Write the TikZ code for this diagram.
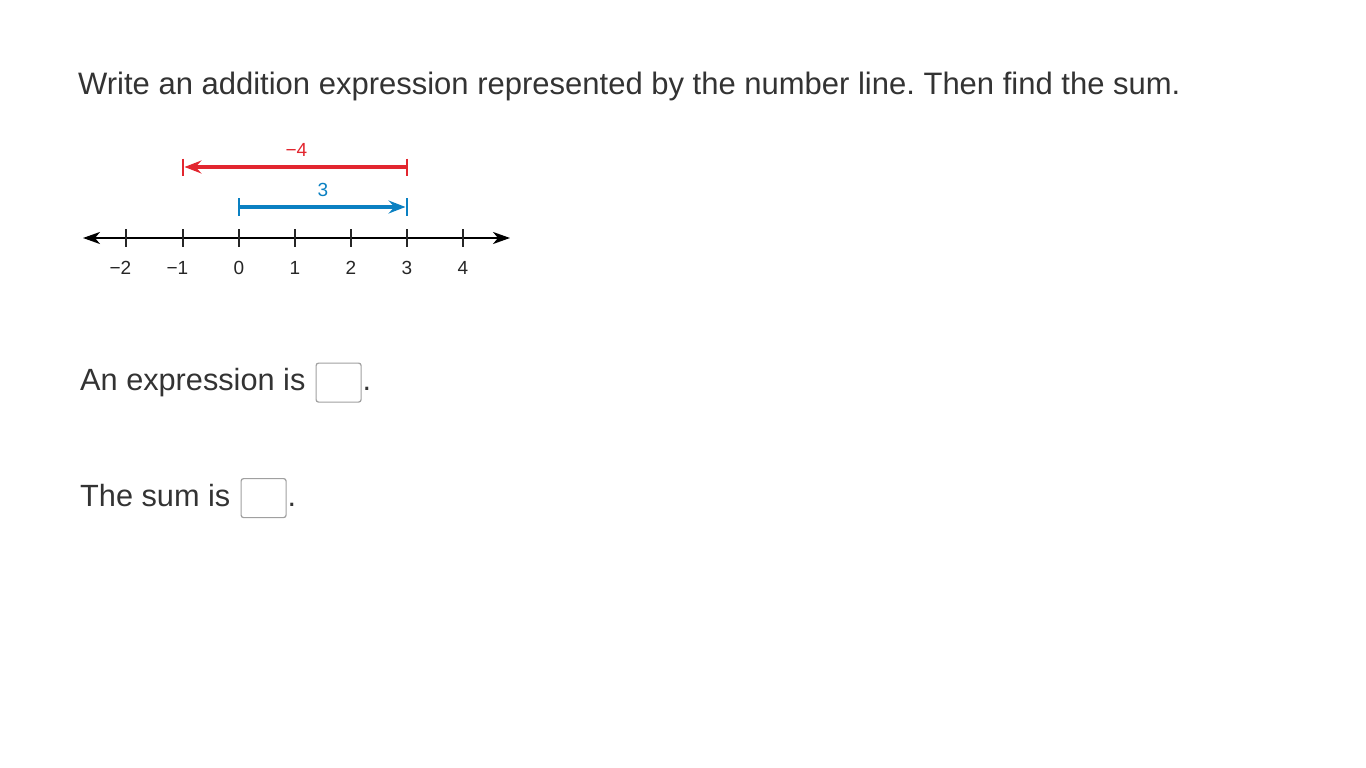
\documentclass[tikz,border=0pt]{standalone}
\usepackage{fontspec}
\setmainfont{Liberation Sans}
\frenchspacing
\usetikzlibrary{arrows.meta}
\definecolor{txt}{HTML}{333333}
\definecolor{nred}{HTML}{E2262F}
\definecolor{nblue}{HTML}{0A80C2}
\definecolor{boxgray}{HTML}{A0A0A0}
\tikzset{
  maintext/.style={anchor=base west, inner sep=0pt, text=txt, font=\fontsize{31}{36}\selectfont},
  lowtext/.style={maintext, font=\fontsize{30.7}{36}\selectfont},
  numlabel/.style={anchor=base, inner sep=0pt, text=black!85, font=\fontsize{19}{22}\selectfont},
  answerbox/.style={draw=boxgray, line width=1.2pt, rounded corners=2.5pt, fill=white, minimum width=45pt, minimum height=39pt, inner sep=0pt, anchor=north west},
  axis/.style={line width=2.2pt, black},
  tick/.style={line width=1.6pt, black!85},
  redarrow/.style={line width=3.5pt, nred},
  bluearrow/.style={line width=3.5pt, nblue},
  endbar/.style={line width=1.6pt},
  bigtip/.style={-{Stealth[length=17pt,width=13pt,inset=6pt]}},
}
\begin{document}
\begin{tikzpicture}[x=1pt,y=-1pt]
\useasboundingbox (0,0) rectangle (1366,768);
\node[maintext] (title) at (78,95) {Write an addition expression represented by the number line. Then find the sum.};

% number line
\coordinate (L) at (83,238);
\coordinate (R) at (510,238);
\draw[axis, {Stealth[length=17pt,width=12pt,inset=5pt]}-{Stealth[length=17pt,width=12pt,inset=5pt]}] (L) -- (R);
\foreach \xx [count=\i from 0] in {126,183,239,295,351,407,463} {
  \coordinate (t\i a) at (\xx,229);
  \coordinate (t\i b) at (\xx,247);
  \draw[tick] (t\i a) -- (t\i b);
}
\node[numlabel] (lm2) at (126,274) {\llap{−}2};
\node[numlabel] (lm1) at (183,274) {\llap{−}1};
\node[numlabel] (l0) at (239,274) {0};
\node[numlabel] (l1) at (295,274) {1};
\node[numlabel] (l2) at (351,274) {2};
\node[numlabel] (l3) at (407,274) {3};
\node[numlabel] (l4) at (463,274) {4};

% red arrow: from 3 back to -1
\coordinate (r0) at (407,167);
\coordinate (r1) at (183,167);
\draw[redarrow, bigtip] (r0) -- ([xshift=1.5pt]r1);
\coordinate (rb0t) at (407,158.5); \coordinate (rb0b) at (407,176);
\coordinate (rb1t) at (183,158.5); \coordinate (rb1b) at (183,176);
\draw[endbar, nred] (rb0t) -- (rb0b);
\draw[endbar, nred] (rb1t) -- (rb1b);
\node[numlabel, text=nred] (redlab) at (302,156) {\llap{−}4};

% blue arrow: from 0 to 3
\coordinate (b0) at (239,207);
\coordinate (b1) at (407,207);
\draw[bluearrow, bigtip] (b0) -- ([xshift=-1.5pt]b1);
\coordinate (bb0t) at (239,198); \coordinate (bb0b) at (239,216);
\coordinate (bb1t) at (407,198); \coordinate (bb1b) at (407,216);
\draw[endbar, nblue] (bb0t) -- (bb0b);
\draw[endbar, nblue] (bb1t) -- (bb1b);
\node[numlabel, text=nblue] (bluelab) at (323,196) {3};

% answers
\node[lowtext] (expr) at (80,390) {An expression is};
\node[answerbox] (box1) at (315.5,362.5) {};
\node[lowtext] (dot1) at (362.5,390) {.};
\node[lowtext] (sum) at (80,506) {The sum is};
\node[answerbox] (box2) at (240.5,478) {};
\node[lowtext] (dot2) at (287.5,506) {.};
\end{tikzpicture}
\end{document}
